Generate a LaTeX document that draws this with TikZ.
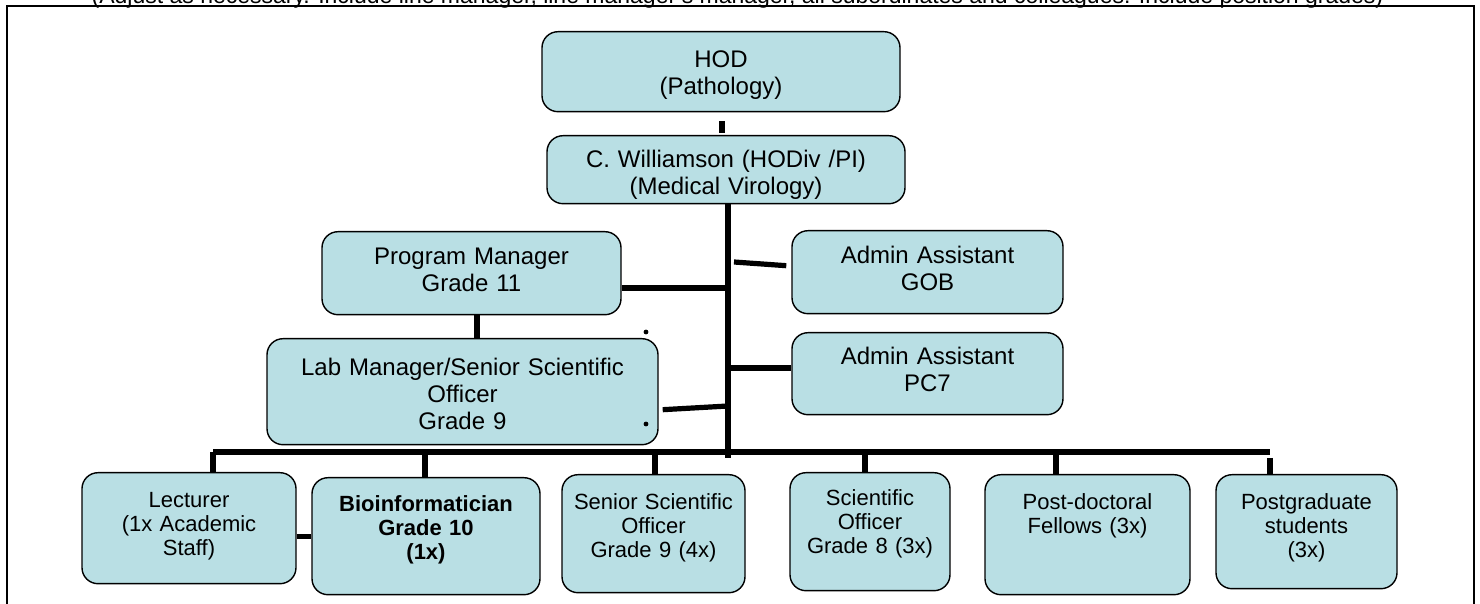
\documentclass[tikz,border=0pt]{standalone}
\usepackage{fontspec}
\setmainfont{Liberation Sans}
\usepackage{xcolor}
\usepackage{tikz}
\usetikzlibrary{calc}
\definecolor{BoxBlue}{RGB}{185,223,228}

\tikzset{
  unitbox/.style={draw=black,line width=0.7pt,fill=BoxBlue,rounded corners=8pt,
    anchor=north,inner sep=0pt,align=center,font=\fontsize{12}{13.5}\selectfont},
  staffbox/.style={unitbox,font=\fontsize{11}{12}\selectfont,text height=17.5pt},
  link/.style={line width=2.6pt},
}

\begin{document}
\begin{tikzpicture}[x=0.5pt,y=-0.5pt]
  \useasboundingbox (0,0) rectangle (1480,604);
  % page note and frame
  \node[anchor=base,inner sep=0pt,font=\fontsize{11.5}{13}\selectfont] (note) at (737.5,4)
    {(Adjust as necessary. Include line manager, line manager's manager, all subordinates and colleagues. Include position grades)};
  \draw[line width=0.6pt] (7,650) -- (7,6) -- (1474,6) -- (1474,650);
  \draw[line width=1.4pt] (7,173) -- (7,190) (7,455) -- (7,470);
  \draw[line width=1.4pt] (1474,173) -- (1474,190) (1474,430) -- (1474,448);

  % upper levels
  \node[unitbox,text width=179pt,text height=18pt,text depth=22pt] (hod) at (721,31) {HOD\\(Pathology)};
  \node[unitbox,text width=179pt,text height=16pt,text depth=18pt] (cw) at (726,135) {C. Williamson (HODiv /PI)\\(Medical Virology)};
  \node[unitbox,text width=149.5pt,text height=16.5pt,text depth=25pt] (pm) at (471.5,231) {Program Manager\\Grade 11};
  \node[unitbox,text width=195.5pt,text height=18.5pt,text depth=34.5pt] (lab) at (462.5,338) {Lab Manager/Senior Scientific\\Officer\\Grade 9};
  \node[unitbox,text width=135.5pt,text height=16.5pt,text depth=25pt] (gob) at (927.5,230) {Admin Assistant\\GOB};
  \node[unitbox,text width=135.5pt,text height=16pt,text depth=25pt] (pc7) at (927.5,332) {Admin Assistant\\PC7};

  % staff level
  \node[staffbox,text width=107pt,text depth=38pt] (lect) at (189,472) {Lecturer\\(1x Academic\\Staff)};
  \node[staffbox,text width=114pt,text height=17pt,text depth=41.5pt,font=\fontsize{11}{12}\selectfont\bfseries] (bio) at (426,477) {Bioinformatician\\Grade 10\\(1x)};
  \node[staffbox,text width=91.5pt,text depth=41.5pt] (sso) at (653.5,474) {Senior Scientific\\Officer\\Grade 9 (4x)};
  \node[staffbox,text width=80pt,text height=16.5pt,text depth=42.5pt] (so) at (870,472) {Scientific\\Officer\\Grade 8 (3x)};
  \node[staffbox,text width=102.5pt,text depth=42.5pt] (pdoc) at (1087.5,474) {Post-doctoral\\Fellows (3x)};
  \node[staffbox,text width=90.5pt,text depth=39.5pt] (pgrad) at (1306.5,474) {Postgraduate\\students\\(3x)};

  % trunk and bar
  \coordinate (trunk) at (728,452);
  \coordinate (barL) at (213,452);
  \coordinate (barR) at (1270,452);
  \coordinate (tGOB) at (734,262);
  \coordinate (tPM) at (728,288);
  \coordinate (tPC7) at (728,368);
  \coordinate (tLab) at (728,406);

  \draw[link] ([yshift=-4.5pt]hod.south -| 722,0) -- ([yshift=1pt]cw.north -| 722,0);
  \draw[link] (cw.south -| trunk) -- ([yshift=-3pt]trunk);
  \draw[link] (barL) -- (barR);
  \draw[link] (pm.east |- tPM) -- (tPM);
  \draw[link] ([shift={(4,18)}]lab.east) -- (tLab);
  \draw[link] (tGOB) -- ([shift={(-5,-6.5)}]gob.west);
  \draw[link] (tPC7) -- (pc7.west |- tPC7);
  \draw[link] ([xshift=2.75pt]pm.south) -- ([xshift=2.75pt]pm.south |- lab.north);
  \draw[link] (bio.west -| lect.east) -- (bio.west);

  % drops to staff
  \draw[link] (barL) -- (barL |- lect.north);
  \foreach \dx/\staff in {425/bio,655/sso,865/so,1056/pdoc}
    \draw[link] (\dx,452) -- (\dx,452 |- \staff.north);
  \draw[link] (1270,458) -- (1270,458 |- pgrad.north);

  % stray dots
  \fill (646,332) circle (1.2pt);
  \fill (646,424) circle (1.2pt);
\end{tikzpicture}
\end{document}
